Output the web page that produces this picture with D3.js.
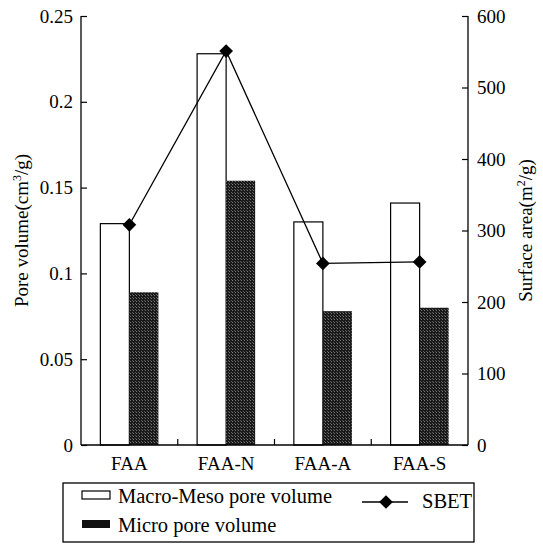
<!DOCTYPE html>
<html>
<head>
<meta charset="utf-8">
<script src="https://cdn.jsdelivr.net/npm/d3@7"></script>
<style>
  body { margin: 0; background: #fff; }
  svg text { font-family: "Liberation Serif", "Times New Roman", Times, "DejaVu Serif", serif; fill: #000; }
</style>
</head>
<body>
<div id="chart"></div>
<script>
// data
var categories = ["FAA", "FAA-N", "FAA-A", "FAA-S"];
var macroMeso = [0.129, 0.228, 0.130, 0.141];   // cm3/g
var micro = [0.089, 0.154, 0.078, 0.080];       // cm3/g
var sbet = [308, 551, 254, 256];                // m2/g
var leftTicks = [0, 0.05, 0.1, 0.15, 0.2, 0.25];
var rightTicks = [0, 100, 200, 300, 400, 500, 600];

var FONT = '"Liberation Serif", "Times New Roman", Times, "DejaVu Serif", serif';
var W = 543, H = 545;
var margin = {top: 16, right: 75, bottom: 100, left: 81};
var width = W - margin.left - margin.right;   // 387
var height = H - margin.top - margin.bottom;  // 429

var svg = d3.select("#chart").append("svg")
    .attr("width", W).attr("height", H)
    .attr("font-family", FONT);

// stipple pattern for the dark bars
var defs = svg.append("defs");
var pat = defs.append("pattern")
    .attr("id", "stipple").attr("patternUnits", "userSpaceOnUse")
    .attr("width", 3).attr("height", 3);
pat.append("rect").attr("width", 3).attr("height", 3).attr("fill", "#1a1a1a");
pat.append("rect").attr("x", 1).attr("y", 0).attr("width", 1).attr("height", 1).attr("fill", "#777");
pat.append("rect").attr("x", 0).attr("y", 2).attr("width", 1).attr("height", 1).attr("fill", "#5a5a5a");

var g = svg.append("g")
    .attr("transform", "translate(" + margin.left + "," + margin.top + ")");

var x = d3.scaleBand().domain(categories).range([0, width]).padding(0);
var y = d3.scaleLinear().domain([0, 0.25]).range([height, 0]);
var y2 = d3.scaleLinear().domain([0, 600]).range([height, 0]);
var barW = x.bandwidth() * 0.3;

// macro-meso bars (white, left of center)
g.selectAll(".macro").data(categories).enter().append("rect")
    .attr("class", "macro")
    .attr("x", function(d) { return x(d) + x.bandwidth() / 2 - barW; })
    .attr("y", function(d, i) { return y(macroMeso[i]); })
    .attr("width", barW)
    .attr("height", function(d, i) { return height - y(macroMeso[i]); })
    .attr("fill", "#fff").attr("stroke", "#000").attr("stroke-width", 1.2);

// micro bars (dark, right of center)
g.selectAll(".micro").data(categories).enter().append("rect")
    .attr("class", "micro")
    .attr("x", function(d) { return x(d) + x.bandwidth() / 2; })
    .attr("y", function(d, i) { return y(micro[i]); })
    .attr("width", barW)
    .attr("height", function(d, i) { return height - y(micro[i]); })
    .attr("fill", "url(#stipple)");

// SBET line
var line = d3.line()
    .x(function(d, i) { return x(categories[i]) + x.bandwidth() / 2; })
    .y(function(d) { return y2(d); });
g.append("path").datum(sbet)
    .attr("d", line).attr("fill", "none")
    .attr("stroke", "#000").attr("stroke-width", 1.3);

var diamond = d3.symbol().type(d3.symbolDiamond2).size(120);
g.selectAll(".pt").data(sbet).enter().append("path")
    .attr("class", "pt")
    .attr("d", diamond)
    .attr("transform", function(d, i) {
        return "translate(" + (x(categories[i]) + x.bandwidth() / 2) + "," + y2(d) + ")";
    })
    .attr("fill", "#000");

// axes
var leftAxis = g.append("g")
    .call(d3.axisLeft(y).tickValues(leftTicks).tickSize(-6).tickPadding(8)
        .tickFormat(function(d) { return d === 0 ? "0" : String(d); }));
var rightAxis = g.append("g")
    .attr("transform", "translate(" + width + ",0)")
    .call(d3.axisRight(y2).tickValues(rightTicks).tickSize(-6).tickPadding(9));
var bottomAxis = g.append("g")
    .attr("transform", "translate(0," + height + ")")
    .call(d3.axisBottom(x).tickSize(0).tickPadding(12));

[leftAxis, rightAxis, bottomAxis].forEach(function(a) {
    a.attr("font-family", FONT).attr("font-size", 19);
    a.select(".domain").attr("stroke", "#000").attr("stroke-width", 1.3);
    a.selectAll(".tick line").attr("stroke", "#000").attr("stroke-width", 1.2);
    a.selectAll("text").attr("fill", "#000");
});
leftAxis.select(".domain").attr("d", "M0," + height + "V0");
rightAxis.select(".domain").attr("d", "M0," + height + "V0");
bottomAxis.select(".domain").attr("d", "M0,0H" + width);

// small inward ticks between groups on the baseline
g.selectAll(".sep").data(categories.slice(1)).enter().append("line")
    .attr("x1", function(d) { return x(d); }).attr("x2", function(d) { return x(d); })
    .attr("y1", height).attr("y2", height - 6)
    .attr("stroke", "#000").attr("stroke-width", 1.2);

// axis titles
svg.append("text")
    .attr("transform", "translate(28," + (margin.top + height / 2) + ") rotate(-90)")
    .attr("text-anchor", "middle").attr("font-size", 19)
    .html('Pore volume(cm<tspan baseline-shift="super" font-size="12">3</tspan>/g)');
svg.append("text")
    .attr("transform", "translate(532," + (margin.top + height / 2) + ") rotate(-90)")
    .attr("text-anchor", "middle").attr("font-size", 19)
    .html('Surface area(m<tspan baseline-shift="super" font-size="12">2</tspan>/g)');

// legend
var lg = svg.append("g").attr("font-size", 20.5);
lg.append("rect").attr("x", 63).attr("y", 483).attr("width", 411).attr("height", 59)
    .attr("fill", "#fff").attr("stroke", "#000").attr("stroke-width", 1.3);
lg.append("rect").attr("x", 82).attr("y", 491).attr("width", 28).attr("height", 8)
    .attr("fill", "#fff").attr("stroke", "#000").attr("stroke-width", 1.2);
lg.append("text").attr("x", 118).attr("y", 503).text("Macro-Meso pore volume");
lg.append("rect").attr("x", 82).attr("y", 520).attr("width", 28).attr("height", 8)
    .attr("fill", "#111");
lg.append("text").attr("x", 118).attr("y", 532).text("Micro pore volume");
lg.append("line").attr("x1", 362).attr("x2", 408).attr("y1", 502).attr("y2", 502)
    .attr("stroke", "#000").attr("stroke-width", 1.3);
lg.append("path").attr("d", diamond).attr("transform", "translate(386,502)").attr("fill", "#000");
lg.append("text").attr("x", 422).attr("y", 508).text("SBET");
</script>
</body>
</html>
